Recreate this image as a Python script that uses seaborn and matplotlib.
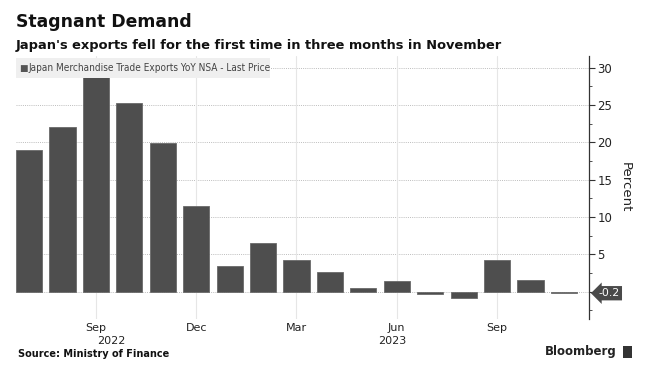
import matplotlib
matplotlib.use("Agg")
import matplotlib.pyplot as plt
import seaborn as sns
import pandas as pd
from matplotlib.patches import Rectangle

months = ["Jul 2022", "Aug 2022", "Sep 2022", "Oct 2022", "Nov 2022", "Dec 2022",
          "Jan 2023", "Feb 2023", "Mar 2023", "Apr 2023", "May 2023", "Jun 2023",
          "Jul 2023", "Aug 2023", "Sep 2023", "Oct 2023", "Nov 2023"]
values = [19.0, 22.0, 28.9, 25.3, 19.9, 11.5, 3.4, 6.5, 4.2, 2.7, 0.5, 1.5,
          -0.35, -0.8, 4.2, 1.6, -0.2]
tick_months = ["Sep 2022", "Dec 2022", "Mar 2023", "Jun 2023", "Sep 2023"]
tick_labels = ["Sep", "Dec", "Mar", "Jun", "Sep"]
year_labels = ["2022", "2023"]
yticks = [0, 5, 10, 15, 20, 25, 30]

df = pd.DataFrame({"month": months, "value": values})

sns.set_theme(style="white")
plt.rcParams["font.family"] = ["DejaVu Sans"]

fig = plt.figure(figsize=(6.47, 3.79), dpi=100)
ax = fig.add_axes([16/647, 1-319/379, (589-16)/647, (319-56)/379])

bar_color = "#4e4e4e"
sns.barplot(data=df, x="month", y="value", order=months, color=bar_color,
            width=0.78, saturation=1, edgecolor="#6a6a6a", linewidth=0.6, ax=ax)

ax.set_xlim(-0.39, 16.75)
ax.set_ylim(-3.65, 31.55)

# grid
for yv in yticks:
    ax.axhline(yv, color="#bdbdbd", lw=0.7, ls=(0, (1, 1.2)), zorder=0)
tick_pos = [months.index(m) for m in tick_months]
for xp in tick_pos:
    ax.axvline(xp, color="#e6e6e6", lw=0.8, zorder=0)

for s in ["top", "left", "bottom"]:
    ax.spines[s].set_visible(False)
ax.spines["right"].set_color("#333333")
ax.spines["right"].set_linewidth(0.9)

ax.yaxis.tick_right()
ax.yaxis.set_label_position("right")
ax.set_yticks(yticks)
ax.set_yticklabels(["" if v == 0 else str(v) for v in yticks], fontsize=8.5, color="#222222")
ax.set_yticks([-2.5, 2.5, 7.5, 12.5, 17.5, 22.5, 27.5], minor=True)
ax.tick_params(axis="y", which="major", direction="out", length=4, width=0.8,
               color="#333333", pad=2, right=True, left=False)
ax.tick_params(axis="y", which="minor", direction="out", length=2.5, width=0.6,
               color="#333333", right=True, left=False)
ax.set_ylabel("Percent", rotation=-90, fontsize=9.5, labelpad=14, color="#222222")

ax.set_xticks(tick_pos)
ax.set_xticklabels(tick_labels, fontsize=8, color="#222222")
ax.tick_params(axis="x", length=0, pad=3)
ax.set_xlabel("")

# year labels
ax.text(2.47, (319-341)/263, year_labels[0], transform=ax.get_xaxis_transform(),
        ha="center", va="center", fontsize=8, color="#222222")
ax.text(10.85, (319-341)/263, year_labels[1], transform=ax.get_xaxis_transform(),
        ha="center", va="center", fontsize=8, color="#222222")

# legend box
fig.patches.append(Rectangle((16/647, 1-78/379), (270-16)/647, 20/379,
                             transform=fig.transFigure, facecolor="#efefef",
                             edgecolor="none", zorder=5))
fig.text(19/647, 1-68/379, "\u25A0", fontsize=6.5, color="#555555", va="center", ha="left", zorder=6)
fig.text(28/647, 1-68/379, "Japan Merchandise Trade Exports YoY NSA - Last Price",
         fontsize=7.2, color="#444444", va="center", ha="left", zorder=6,
         fontstretch="condensed")

# last value tag
last = values[-1]
ax.annotate(f"{last:.1f}", xy=(1.0, last), xycoords=("axes fraction", "data"),
            xytext=(7, 0), textcoords="offset points", ha="left", va="center",
            fontsize=7.8, color="white",
            bbox=dict(boxstyle="larrow,pad=0.2", fc="#4a4a4a", ec="none"))

# titles
fig.text(16/647, 1-22/379, "Stagnant Demand", fontsize=12.4, fontweight="bold",
         color="#111111", va="center", ha="left")
fig.text(16/647, 1-45/379, "Japan's exports fell for the first time in three months in November",
         fontsize=9.4, fontweight="bold", color="#111111", va="center", ha="left")
fig.text(18/647, 1-354/379, "Source: Ministry of Finance", fontsize=7, fontweight="bold",
         color="#111111", va="center", ha="left")
fig.text(617/647, 1-352/379, "Bloomberg", fontsize=8.5, fontweight="bold",
         color="#222222", va="center", ha="right")
fig.patches.append(Rectangle((623/647, 1-358/379), 9/647, 12/379,
                             transform=fig.transFigure, facecolor="#333333",
                             edgecolor="none"))

fig.savefig("out.png", dpi=100, facecolor="white")
